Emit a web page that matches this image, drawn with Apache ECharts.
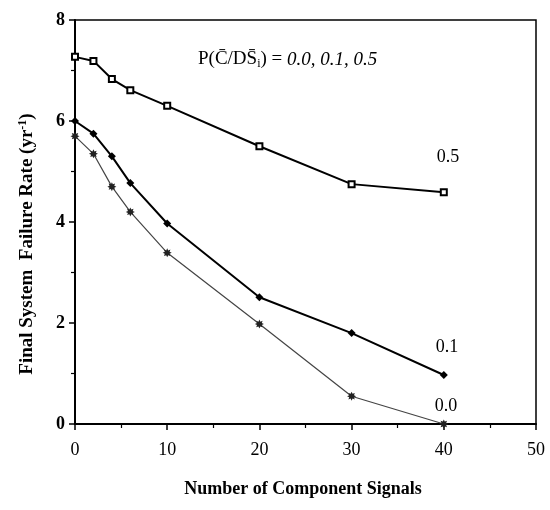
<!DOCTYPE html>
<html>
<head>
<meta charset="utf-8">
<script src="https://cdn.jsdelivr.net/npm/echarts@6/dist/echarts.min.js"></script>
<style>html,body{margin:0;padding:0;background:#fff;}#c{width:550px;height:510px;}</style>
</head>
<body>
<div id="c"></div>
<script>
var xValues = [0, 2, 4, 6, 10, 20, 30, 40];
var s05 = [7.27, 7.19, 6.83, 6.61, 6.30, 5.50, 4.75, 4.59];
var s01 = [6.00, 5.75, 5.30, 4.77, 3.97, 2.51, 1.80, 0.97];
var s00 = [5.70, 5.35, 4.70, 4.20, 3.39, 1.98, 0.55, 0.00];
var seriesNames = ['0.5', '0.1', '0.0'];
var xTicks = [0, 10, 20, 30, 40, 50];
var yTicks = [0, 2, 4, 6, 8];

function pairs(ys) { return xValues.map(function (x, i) { return [x, ys[i]]; }); }

var F = '"Liberation Serif", "Times New Roman", serif';
var starPath = 'path://M0,-10L2.2,-5.3L7.1,-7.1L5.3,-2.2L10,0L5.3,2.2L7.1,7.1L2.2,5.3L0,10L-2.2,5.3L-7.1,7.1L-5.3,2.2L-10,0L-5.3,-2.2L-7.1,-7.1L-2.2,-5.3Z';

var chart = echarts.init(document.getElementById('c'));
chart.setOption({
  animation: false,
  backgroundColor: '#fff',
  grid: { left: 75, right: 14, top: 20, bottom: 86, show: true, borderColor: '#000', borderWidth: 1.5 },
  xAxis: {
    type: 'value', min: 0, max: 50, interval: 10,
    axisLine: { lineStyle: { color: '#000', width: 2 } },
    axisTick: { inside: false, length: 6, lineStyle: { color: '#000', width: 1.5 } },
    minorTick: { show: true, splitNumber: 2, length: 4, lineStyle: { color: '#000', width: 1.2 } },
    splitLine: { show: false },
    axisLabel: { color: '#000', fontFamily: F, fontSize: 18, margin: 17 }
  },
  yAxis: {
    type: 'value', min: 0, max: 8, interval: 2,
    axisLine: { lineStyle: { color: '#000', width: 2 } },
    axisTick: { inside: false, length: 6, lineStyle: { color: '#000', width: 1.5 } },
    minorTick: { show: true, splitNumber: 2, length: 4, lineStyle: { color: '#000', width: 1.2 } },
    splitLine: { show: false },
    axisLabel: { color: '#000', fontFamily: F, fontSize: 18, fontWeight: 'bold', margin: 10 }
  },
  series: [
    {
      name: seriesNames[0], type: 'line', data: pairs(s05), clip: false,
      symbol: 'rect', symbolSize: 6,
      lineStyle: { color: '#000', width: 2 },
      itemStyle: { color: '#fff', borderColor: '#000', borderWidth: 2 },
      endLabel: { show: true, formatter: seriesNames[0], fontFamily: F, fontSize: 18, color: '#000', offset: [-15, -35] }
    },
    {
      name: seriesNames[1], type: 'line', data: pairs(s01), clip: false,
      symbol: 'diamond', symbolSize: 8,
      lineStyle: { color: '#000', width: 2 },
      itemStyle: { color: '#000' },
      endLabel: { show: true, formatter: seriesNames[1], fontFamily: F, fontSize: 18, color: '#000', offset: [-16, -28] }
    },
    {
      name: seriesNames[2], type: 'line', data: pairs(s00), clip: false,
      symbol: starPath, symbolSize: 9,
      lineStyle: { color: '#444', width: 1.2 },
      itemStyle: { color: '#222' },
      endLabel: { show: true, formatter: seriesNames[2], fontFamily: F, fontSize: 18, color: '#000', offset: [-17, -18] }
    }
  ],
  graphic: [
    {
      type: 'text', left: 198, top: 50,
      style: {
        text: '{n|P(C\u0304/DS\u0304}{s|i}{n|) = }{it|0.0, 0.1, 0.5}',
        rich: {
          n: { fontFamily: F, fontSize: 19, fill: '#000' },
          s: { fontFamily: F, fontSize: 12, fill: '#000', padding: [9, 0, 0, 0] },
          it: { fontFamily: F, fontSize: 19, fontStyle: 'italic', fill: '#000' }
        }
      }
    },
    {
      type: 'text', x: 27, y: 244, rotation: Math.PI / 2,
      style: {
        text: '{n|Final System  Failure Rate (yr}{s|-1}{n|)}',
        align: 'center', verticalAlign: 'middle',
        rich: {
          n: { fontFamily: F, fontSize: 19, fontWeight: 'bold', fill: '#000' },
          s: { fontFamily: F, fontSize: 12, fontWeight: 'bold', fill: '#000', padding: [0, 0, 9, 0] }
        }
      }
    },
    {
      type: 'text', x: 303, y: 489,
      style: {
        text: 'Number of Component Signals',
        align: 'center', verticalAlign: 'middle',
        fontFamily: F, fontSize: 18, fontWeight: 'bold', fill: '#000'
      }
    }
  ]
});
</script>
</body>
</html>
